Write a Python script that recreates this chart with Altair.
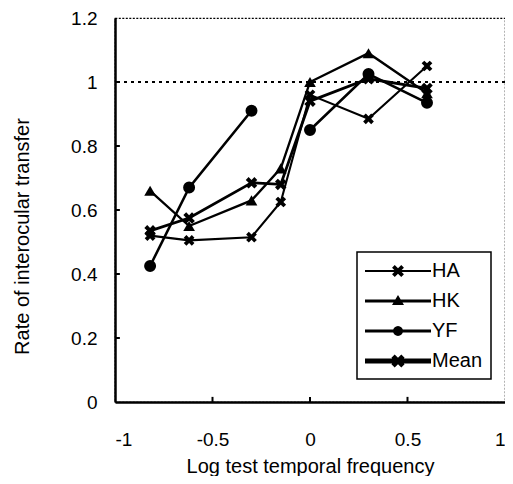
import math
import altair as alt
import pandas as pd

# ---------------- data ----------------
x_vals = [-0.82, -0.62, -0.3, -0.15, 0.0, 0.3, 0.6]
series_names = ["HA", "HK", "YF", "Mean"]
ha = [0.52, 0.505, 0.515, 0.625, 0.96, 0.885, 1.05]
hk = [0.66, 0.55, 0.63, 0.73, 1.0, 1.09, 0.965]
yf = [0.425, 0.67, 0.91, None, 0.85, 1.025, 0.935]
mean = [0.535, 0.575, 0.685, 0.68, 0.94, 1.01, 0.98]

x_ticks = [-1, -0.5, 0, 0.5, 1]
y_ticks = [0, 0.2, 0.4, 0.6, 0.8, 1.0, 1.2]
x_inner_ticks = [-0.5, 0, 0.5]
y_inner_ticks = [0.2, 0.4, 0.6, 0.8, 1.0]
ref_level = 1.0

rows = []
for name, vals in zip(series_names, [ha, hk, yf, mean]):
    seg = 0
    for xv, yv in zip(x_vals, vals):
        if yv is None:
            seg += 1
            continue
        rows.append({"series": name, "seg": f"{name}_{seg}", "x": xv, "y": yv})
df = pd.DataFrame(rows)

# ---------------- styles ----------------
FONT = "Liberation Sans"
line_widths = [2.1, 2.8, 2.8, 5.0]
point_sizes = [130, 150, 90, 160]


def xmark_path(a, w, scale=1.0):
    a *= scale
    w *= scale
    pts = [(-a, -w), (-w, -w), (-w, -a), (w, -a), (w, -w), (a, -w),
           (a, w), (w, w), (w, a), (-w, a), (-w, w), (-a, w)]
    c = math.sqrt(0.5)
    rp = [((px - py) * c, (px + py) * c) for px, py in pts]
    return "M" + "L".join(f"{px:.4f},{py:.4f}" for px, py in rp) + "Z"


X_UNIT = xmark_path(1.0, 0.33)
point_shapes = [X_UNIT, "triangle-up", "circle", X_UNIT]

# legend symbols: line + marker drawn as one filled path.
S = 22.0          # sqrt(symbolSize): one path unit = S/2 px
LINE_LEN = 66.0   # legend line length in px
u = 2.0 / S
half = LINE_LEN / 2 * u


def rect(t):
    h = t / 2 * u
    return f"M{-half:.4f},{-h:.4f}H{half:.4f}V{h:.4f}H{-half:.4f}Z"


def tri(wd, ht):
    w = wd / 2 * u
    top = ht * 0.6 * u
    bot = ht * 0.4 * u
    return f"M{-w:.4f},{bot:.4f}L0,{-top:.4f}L{w:.4f},{bot:.4f}Z"


def circ(r, n=16):
    r *= u
    pts = [(r * math.cos(2 * math.pi * k / n), r * math.sin(2 * math.pi * k / n)) for k in range(n)]
    return "M" + "L".join(f"{px:.4f},{py:.4f}" for px, py in pts) + "Z"


legend_paths = [
    rect(line_widths[0]) + xmark_path(6.5, 1.9, u),
    rect(line_widths[1]) + tri(12, 10),
    rect(line_widths[2]) + circ(5),
    rect(line_widths[3]) + xmark_path(7, 2.3, u),
]

xscale = alt.Scale(domain=[-1, 1], nice=False, zero=False)
yscale = alt.Scale(domain=[0, 1.2], nice=False, zero=False)

xaxis = alt.Axis(values=x_ticks, labelExpr="'' + datum.value", title="Log test temporal frequency",
                 ticks=False, grid=False, domainColor="black", domainWidth=2.5,
                 labelFont=FONT, labelFontSize=19, labelColor="black", labelPadding=28,
                 titleFont=FONT, titleFontSize=20, titleFontWeight="normal", titleColor="black",
                 titleY=70, titleBaseline="alphabetic")
yaxis = alt.Axis(values=y_ticks, labelExpr="'' + datum.value", title="Rate of interocular transfer",
                 ticks=False, grid=False, domainColor="black", domainWidth=2.5,
                 labelFont=FONT, labelFontSize=19, labelColor="black", labelPadding=18,
                 titleFont=FONT, titleFontSize=20, titleFontWeight="normal", titleColor="black",
                 titleX=-93, titleY=218, titleBaseline="middle", titleAngle=270)

xenc = alt.X("x:Q", scale=xscale, axis=xaxis)
yenc = alt.Y("y:Q", scale=yscale, axis=yaxis)

sw_scale = alt.Scale(domain=series_names, range=line_widths)

lines = alt.Chart(df).mark_line(color="black").encode(
    x=xenc, y=yenc,
    detail="seg:N",
    strokeWidth=alt.StrokeWidth("series:N", scale=sw_scale, legend=None),
    order="x:Q",
)

points = alt.Chart(df).mark_point(filled=True, color="black", opacity=1).encode(
    x=xenc, y=yenc,
    shape=alt.Shape("series:N", scale=alt.Scale(domain=series_names, range=point_shapes), legend=None),
    size=alt.Size("series:N", scale=alt.Scale(domain=series_names, range=point_sizes), legend=None),
)

legend_layer = alt.Chart(df).mark_point(filled=True, fill="black", opacity=0).encode(
    x=xenc, y=yenc,
    shape=alt.Shape(
        "series:N",
        scale=alt.Scale(domain=series_names, range=legend_paths),
        legend=alt.Legend(
            orient="none", legendX=242, legendY=234, title=None,
            symbolSize=S * S, symbolStrokeWidth=0, symbolOpacity=1,
            symbolFillColor="black", symbolStrokeColor="black",
            symbolOffset=LINE_LEN / 2 - S / 2,
            labelFont=FONT, labelFontSize=20, labelColor="black",
            labelOffset=23,
            strokeColor="black", padding=8, rowPadding=9,
        ),
    ),
)

ref_line = alt.Chart(pd.DataFrame({"y": [ref_level]})).mark_rule(
    color="black", strokeWidth=2, strokeDash=[3, 4]
).encode(y=yenc)

xt = alt.Chart(pd.DataFrame({"x": x_inner_ticks})).mark_rule(color="black", strokeWidth=2).encode(
    x=xenc, y=alt.datum(0), y2=alt.datum(0.016)
)
yt = alt.Chart(pd.DataFrame({"y": y_inner_ticks})).mark_rule(color="black", strokeWidth=2).encode(
    y=yenc, x=alt.datum(-1), x2=alt.datum(-0.975)
)

chart = alt.layer(ref_line, xt, yt, lines, points, legend_layer).resolve_scale(
    shape="independent"
).properties(
    width=390, height=384,
    autosize=alt.AutoSizeParams(type="none"),
    padding={"left": 107, "top": 10, "right": 0, "bottom": 74},
).configure_view(
    stroke="black", strokeDash=[2, 1.5], strokeWidth=1.2
).configure_legend(
    strokeWidth=1.5
)

chart.save("out.html", embed_options={"renderer": "svg", "actions": False})
